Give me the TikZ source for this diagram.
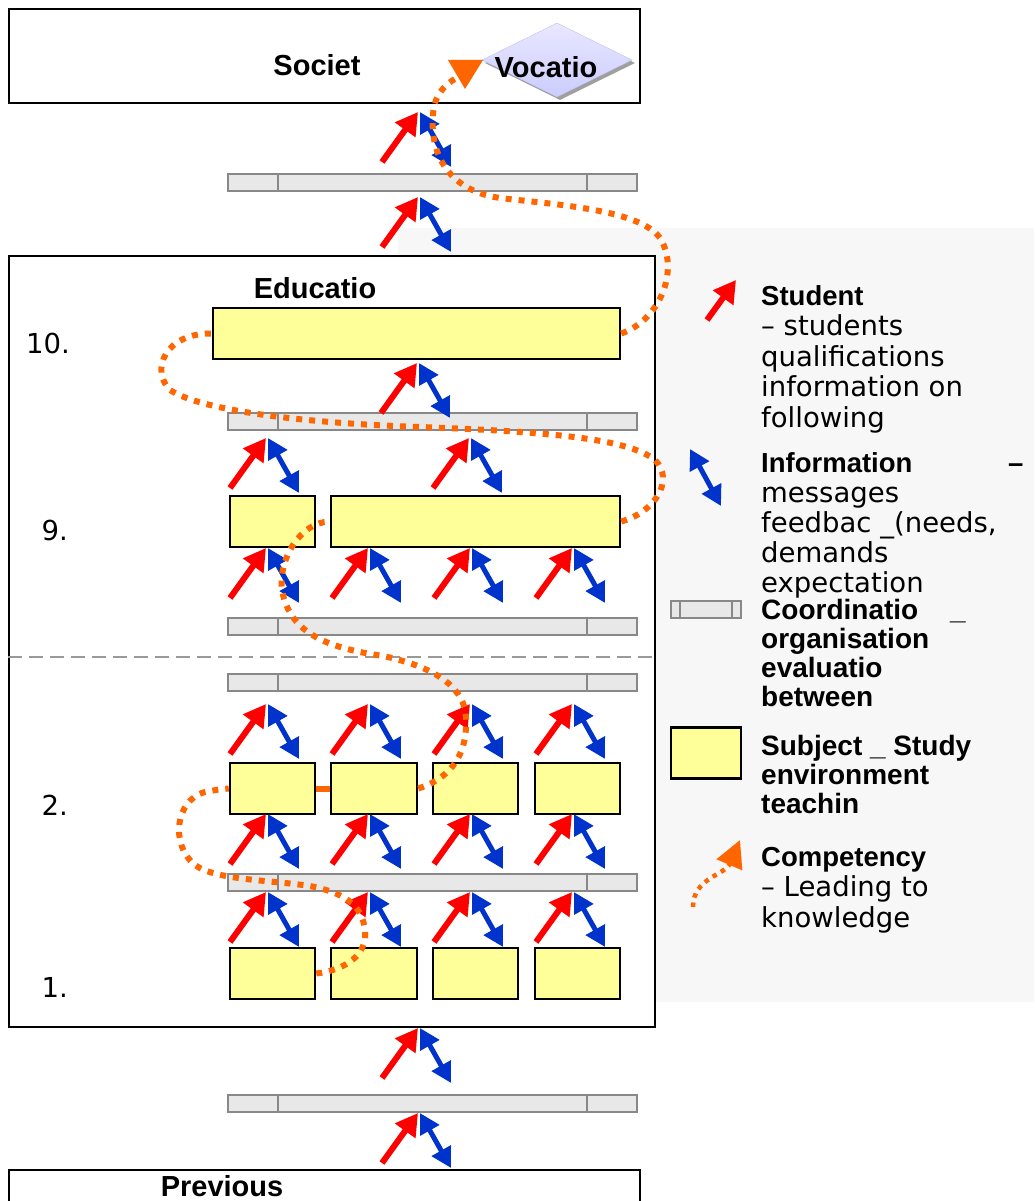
\documentclass[tikz,border=0pt]{standalone}
\usepackage{fontspec}
\setmainfont{DejaVu Sans}
\newfontfamily\headfont{Liberation Sans}
\usepackage{tikz}
\usetikzlibrary{arrows.meta,shadows,shapes.geometric}

\definecolor{studentred}{HTML}{FF0000}
\definecolor{infoblue}{HTML}{0033CC}
\definecolor{comporange}{HTML}{FF6600}
\definecolor{subjectyellow}{HTML}{FFFF99}
\definecolor{barfill}{HTML}{E8E8E8}
\definecolor{bargray}{HTML}{888888}
\definecolor{legendbg}{HTML}{F7F7F7}
\definecolor{vocfill}{HTML}{CCCCFF}

\newcommand{\flowpair}[3]{%
  \coordinate (#1) at (#2,#3);
  \coordinate (#1s) at (#2-36,#3+50);
  \coordinate (#1i) at (#2+33,#3+55);
  \draw[studentarrow] (#1s) -- (#1);
  \draw[infoarrow] ([xshift=2pt]#1) -- (#1i);
}

\begin{document}
\begin{tikzpicture}[x=1pt, y=-1pt,
	bigbox/.style={draw=black, fill=white, line width=2pt, inner sep=0pt},
	subject/.style={draw=black, fill=subjectyellow, line width=2.5pt, inner sep=0pt, minimum height=51pt},
	coordbar/.style={draw=bargray, fill=barfill, line width=2pt, inner sep=0pt, minimum width=409pt, minimum height=17pt,
		path picture={
			\draw[bargray, line width=2pt] ([xshift=#1pt]path picture bounding box.north west) -- ([xshift=#1pt]path picture bounding box.south west);
			\draw[bargray, line width=2pt] ([xshift=-#1pt]path picture bounding box.north east) -- ([xshift=-#1pt]path picture bounding box.south east);}},
	coordbar/.default=50,
	legendpanel/.style={fill=legendbg, inner sep=0pt},
	vocdiamond/.style={shape=diamond, inner sep=0pt, top color=vocfill!45!white, bottom color=vocfill, draw=vocfill!85!gray,
		drop shadow={shadow xshift=3pt, shadow yshift=-3pt, fill=gray!75, opacity=1}},
	sepline/.style={draw=gray!80, line width=2pt, dash pattern=on 14pt off 7pt},
	studentarrow/.style={draw=studentred, line width=6pt, -{Triangle[length=22pt,width=24pt]}},
	infoarrow/.style={draw=infoblue, line width=5pt, {Triangle[length=20pt,width=21pt]}-{Triangle[length=20pt,width=21pt]}},
	comppath/.style={draw=comporange, line width=6pt, dash pattern=on 6pt off 7pt},
	comptip/.style={fill=comporange},
	heading/.style={font=\headfont\bfseries\fontsize{29}{30}\selectfont, inner sep=0pt, anchor=base},
	numlabel/.style={font=\fontsize{27.5}{30}\selectfont, inner sep=0pt, anchor=base east},
	legendtext/.style={font=\fontsize{27.5}{30.5}\selectfont, align=left, inner sep=0pt, anchor=base west},
	legendhead/.style={font=\headfont\bfseries\fontsize{28}{29}\selectfont, align=left, inner sep=0pt, anchor=base west}]

	\useasboundingbox (0,0) rectangle (1034,1201);

	\node[legendpanel, minimum width=636pt, minimum height=774pt] (legend) at (716,615) {};

	\node[bigbox, minimum width=631pt, minimum height=94pt] (society) at (324.5,56) {};
	\node[bigbox, minimum width=646pt, minimum height=771pt] (education) at (332,641.5) {};
	\node[bigbox, minimum width=631pt, minimum height=50pt] (previous) at (324.5,1195) {};

	\node[vocdiamond, minimum width=150pt, minimum height=74pt] (vocation) at (557,60) {};

	\node[heading] (societyText) at (317,76) {Societ};
	\node[heading] (vocationText) at (546,78) {Vocatio};
	\node[heading] (educationText) at (315,298) {Educatio};
	\node[heading] (previousText) at (222,1196) {Previous};

	\node[numlabel] (n10) at (70,353) {10.};
	\node[numlabel] (n9) at (68,540) {9.};
	\node[numlabel] (n2) at (68,815) {2.};
	\node[numlabel] (n1) at (68,997) {1.};

	\draw[sepline] (education.west |- 0,657) -- (education.east |- 0,657);

	\node[coordbar] (barTop) at (432.5,182.5) {};
	\node[coordbar] (bar10) at (432.5,421.5) {};
	\node[coordbar] (bar9) at (432.5,626.5) {};
	\node[coordbar] (bar2) at (432.5,682.5) {};
	\node[coordbar] (bar1) at (432.5,882.5) {};
	\node[coordbar] (barPrev) at (432.5,1103.5) {};

	\node[subject, minimum width=407pt] (b10) at (416.5,333.5) {};
	\node[subject, minimum width=85pt] (b9a) at (272.5,521.5) {};
	\node[subject, minimum width=289pt] (b9b) at (475.5,521.5) {};
	\node[subject, minimum width=85pt] (b2a) at (272.5,788.5) {};
	\node[subject, minimum width=86pt] (b2b) at (374,788.5) {};
	\node[subject, minimum width=85pt] (b2c) at (475.5,788.5) {};
	\node[subject, minimum width=85pt] (b2d) at (577.5,788.5) {};
	\node[subject, minimum width=85pt] (b1a) at (272.5,973.5) {};
	\node[subject, minimum width=86pt] (b1b) at (374,973.5) {};
	\node[subject, minimum width=85pt] (b1c) at (475.5,973.5) {};
	\node[subject, minimum width=85pt] (b1d) at (577.5,973.5) {};

	\flowpair{fSociety}{418}{112}
	\flowpair{fEducation}{418}{197}
	\flowpair{fTen}{417}{363}
	\flowpair{fNineA}{266}{438}
	\flowpair{fNineB}{469}{438}
	\flowpair{fBarNineA}{266}{548}
	\flowpair{fBarNineB}{368}{548}
	\flowpair{fBarNineC}{470}{548}
	\flowpair{fBarNineD}{572}{548}
	\flowpair{fTwoA}{266}{704}
	\flowpair{fTwoB}{368}{704}
	\flowpair{fTwoC}{470}{704}
	\flowpair{fTwoD}{572}{704}
	\flowpair{fBarOneA}{266}{814}
	\flowpair{fBarOneB}{368}{814}
	\flowpair{fBarOneC}{470}{814}
	\flowpair{fBarOneD}{572}{814}
	\flowpair{fOneA}{266}{892}
	\flowpair{fOneB}{368}{892}
	\flowpair{fOneC}{470}{892}
	\flowpair{fOneD}{572}{892}
	\flowpair{fPrevBar}{418}{1028}
	\flowpair{fPrevious}{418}{1113}

	\coordinate (vocTip) at (465,74);
	\draw[comppath] (b1a.east) .. controls (345,970) and (368,955) .. (365,930) .. controls (362,905) and (345,893) .. (310,886) .. controls (270,880) and (215,880) .. (195,865) .. controls (170,845) and (175,800) .. (205,792) .. controls (215,790) and (222,789) .. (b2a.west);
	\draw[comppath, dash pattern=on 15pt off 1pt] (b2a.east) -- (b2b.west);
	\draw[comppath] (b2b.east) .. controls (445,780) and (468,760) .. (466,718) .. controls (465,690) and (440,668) .. (383,656) .. controls (330,648) and (290,635) .. (282,590) .. controls (278,560) and (300,522) .. (b9b.west);
	\draw[comppath] (b9b.east) .. controls (655,512) and (675,480) .. (655,460) .. controls (630,440) and (560,432) .. (420,427) .. controls (300,423) and (200,410) .. (170,390) .. controls (150,370) and (165,333) .. (b10.west);
	\draw[comppath] (b10.east) .. controls (660,320) and (680,270) .. (660,238) .. controls (640,210) and (560,205) .. (500,198) .. controls (445,190) and (430,150) .. (433,115) .. controls (434,95) and (445,82) .. (vocTip);
	\fill[comptip] (vocTip) ++(-17,-14) -- ++(35,0) -- ++(-18,29) -- cycle;

	\coordinate (legStudentS) at (707,320);
	\coordinate (legStudent) at (736,280);
	\draw[studentarrow] (legStudentS) -- (legStudent);
	\coordinate (legInfoA) at (690,449);
	\coordinate (legInfoB) at (721,506);
	\draw[infoarrow] (legInfoA) -- (legInfoB);
	\node[coordbar=9, minimum width=70pt] (legBar) at (706,609) {};
	\node[subject, minimum width=70pt] (legBox) at (706,753) {};
	\coordinate (legCompS) at (693,907);
	\coordinate (legCompE) at (740,840);
	\draw[comppath, line width=4.5pt, dash pattern=on 4.5pt off 5pt, -{Triangle[length=27pt,width=27pt]}] (legCompS) .. controls (693,878) and (725,875) .. (legCompE);

	\node[legendtext] (studentText) at (761,427) {{\headfont\bfseries Student}\\– students\\qualifications\\information on\\following};
	\node[legendtext, font=\fontsize{27.5}{30}\selectfont] (infoText) at (761,592) {{\headfont\bfseries\makebox[247pt][l]{Information}–}\\messages\\feedbac \_(needs,\\demands\\expectation};
	\node[legendhead] (coordText) at (761,706) {\makebox[189pt][l]{Coordinatio}\_\\organisation\\evaluatio\\between};
	\node[legendhead] (subjectText) at (761,813) {Subject \_ Study\\environment\\teachin};
	\node[legendtext] (compText) at (761,927) {{\headfont\bfseries Competency}\\– Leading to\\knowledge};

\end{tikzpicture}
\end{document}
